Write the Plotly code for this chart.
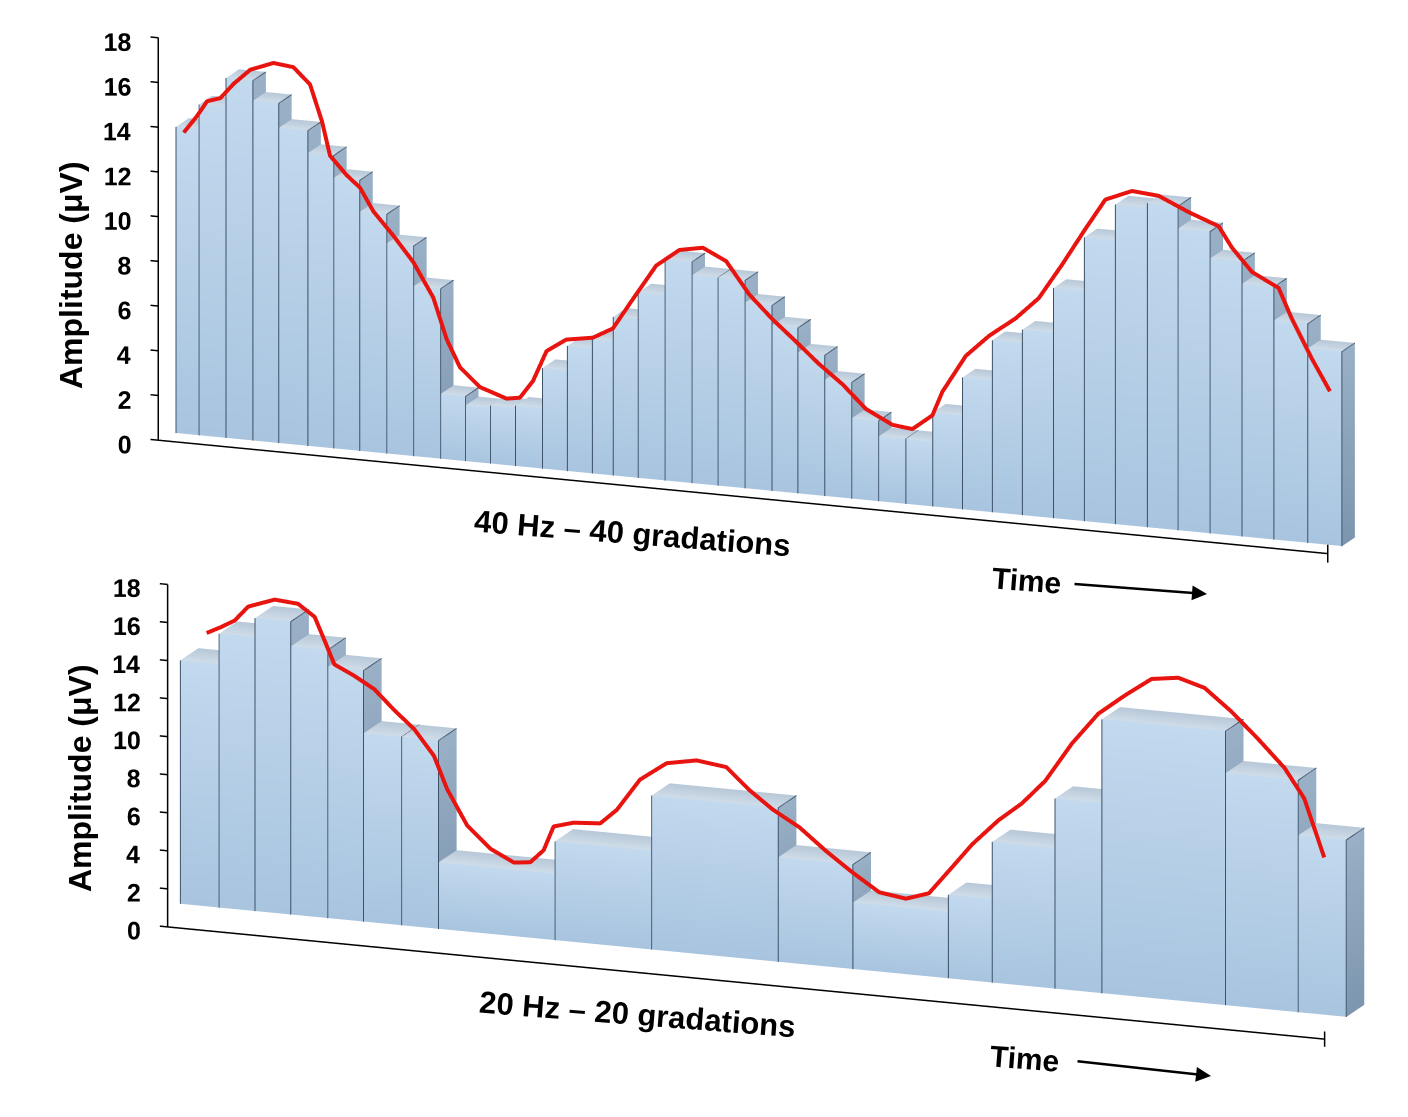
import plotly.graph_objects as go

# ---------------------------------------------------------------------------
# Values. Time runs 0..42 across each panel (slot units),
# amplitude in microvolts.
# ---------------------------------------------------------------------------

TOP_EDGES = [0, 0.83, 1.80, 2.77, 3.70, 4.75, 5.68, 6.62, 7.59, 8.56,
             9.53, 10.43, 11.33, 12.23, 13.20, 14.10, 15.00, 15.75, 16.65, 17.62,
             18.59, 19.53, 20.50, 21.47, 22.40, 23.37, 24.34, 25.31, 26.29, 27.26,
             28.33, 29.41, 30.49, 31.61, 32.72, 33.84, 34.99, 36.10, 37.25, 38.40,
             39.55, 40.77, 42.0]
TOP_VALUES = [13.7, 14.8, 16.1, 15.2, 14.1, 13.1, 12.1, 10.7, 9.4, 7.6,
              2.9, 2.5, 2.6, 2.7, 4.5, 5.6, 6.0, 7.1, 8.3, 9.9,
              9.3, 9.3, 8.3, 7.4, 6.3, 5.2, 3.6, 2.9, 2.9, 4.2,
              5.9, 7.7, 8.3, 10.3, 12.7, 14.3, 14.5, 13.5, 12.3, 11.3,
              9.8, 8.7]

TOP_CURVE_T = [0.30, 0.78, 1.14, 1.62, 2.10, 2.70, 3.53, 4.25, 4.85, 5.28,
               5.57, 6.17, 6.65, 7.13, 7.85, 8.57, 9.29, 9.77, 10.25, 10.97,
               11.93, 12.41, 12.88, 13.37, 14.08, 15.04, 15.76, 16.48, 17.32, 18.16,
               19.00, 19.84, 20.68, 21.51, 22.36, 23.19, 24.03, 24.87, 25.83, 26.55,
               27.27, 27.63, 28.47, 29.31, 30.27, 31.10, 31.94, 32.78, 33.50, 34.46,
               35.42, 36.50, 37.58, 38.06, 38.78, 39.74, 40.21, 40.93, 41.59]
TOP_CURVE_V = [13.5, 14.3, 15.0, 15.2, 15.9, 16.6, 17.0, 16.9, 16.2, 14.6,
               13.1, 12.3, 11.8, 10.8, 9.8, 8.7, 7.2, 5.4, 4.2, 3.4,
               3.0, 3.1, 3.9, 5.3, 5.9, 6.1, 6.6, 8.0, 9.6, 10.4,
               10.6, 10.1, 8.7, 7.7, 6.8, 5.9, 5.1, 4.1, 3.5, 3.4,
               4.1, 5.2, 6.9, 7.9, 8.8, 9.8, 11.4, 13.1, 14.5, 15.0,
               14.9, 14.3, 13.8, 12.9, 11.9, 11.3, 10.0, 8.3, 6.9]

# 20 Hz panel: neighbouring equal gradations merge into one wide block
BOTTOM_EDGES = [0, 1.40, 2.69, 3.98, 5.31, 6.60, 7.97, 9.30, 13.50, 16.98,
                21.54, 24.23, 27.67, 29.25, 31.51, 33.20, 37.65, 40.27, 42.0]
BOTTOM_VALUES = [12.8, 14.4, 15.4, 14.1, 13.2, 9.9, 9.9, 3.5, 5.2,
                 8.1, 5.5, 3.5, 4.4, 7.4, 10.0, 14.4, 12.2, 9.3]

BOTTOM_CURVE_T = [0.97, 1.51, 1.98, 2.47, 3.42, 4.26, 4.86, 5.22, 5.57, 6.29,
                  7.01, 7.73, 8.45, 9.16, 9.64, 10.36, 11.20, 12.04, 12.63, 13.11,
                  13.47, 14.19, 15.15, 15.75, 16.58, 17.54, 18.62, 19.69, 20.53, 21.37,
                  22.33, 23.28, 24.24, 25.20, 26.16, 26.99, 27.83, 28.55, 29.50, 30.34,
                  31.18, 32.14, 33.09, 34.05, 35.01, 35.97, 36.92, 37.88, 38.84, 39.80,
                  40.51, 41.23]
BOTTOM_CURVE_V = [14.4, 14.8, 15.2, 16.0, 16.5, 16.4, 15.8, 14.6, 13.4, 12.9,
                  12.3, 11.3, 10.4, 9.1, 7.4, 5.6, 4.5, 3.9, 4.0, 4.7,
                  6.0, 6.3, 6.4, 7.2, 8.9, 9.9, 10.2, 10.0, 8.9, 8.0,
                  7.2, 6.1, 5.1, 4.2, 4.0, 4.4, 5.9, 7.2, 8.6, 9.6,
                  10.9, 13.0, 14.7, 15.8, 16.8, 17.0, 16.6, 15.5, 14.2, 12.8,
                  11.3, 8.3]

TICKS = [0, 2, 4, 6, 8, 10, 12, 14, 16, 18]
TICK_LABELS = ["0", "2", "4", "6", "8", "10", "12", "14", "16", "18"]

FONT = "Liberation Sans"

# per panel geometry: bar depth, position of the front axes
TOP_GEOM = dict(depth=1.21, axis_x=-0.23, front_y=-1.1, x_end=41.9)
BOTTOM_GEOM = dict(depth=1.7, axis_x=0.67, front_y=-3.0, x_end=42.35)

FRONT_COL = ("#a8c4df", "#c2d9ee")
TOP_COL = ("#d0dde9", "#b8c8d8")
SIDE_COL = ("#7d96af", "#99b0c6")
LEFT_COL = ("#9fb8cf", "#b4c8db")


def bar_mesh(edges, heights, d):
    xs, ys, zs, ii, jj, kk, cols = [], [], [], [], [], [], []

    def quad(pts, c0, c1):
        n = len(xs)
        for (x, y, z), c in zip(pts, (c0, c0, c1, c1)):
            xs.append(x); ys.append(y); zs.append(z); cols.append(c)
        ii.extend([n, n]); jj.extend([n + 1, n + 2]); kk.extend([n + 2, n + 3])

    for x0, x1, h in zip(edges[:-1], edges[1:], heights):
        quad([(x0, 0, 0), (x1, 0, 0), (x1, 0, h), (x0, 0, h)], *FRONT_COL)
        quad([(x0, 0, h), (x1, 0, h), (x1, d, h), (x0, d, h)], *TOP_COL)
        quad([(x1, 0, 0), (x1, d, 0), (x1, d, h), (x1, 0, h)], *SIDE_COL)
        quad([(x0, 0, 0), (x0, d, 0), (x0, d, h), (x0, 0, h)], *LEFT_COL)
    return go.Mesh3d(x=xs, y=ys, z=zs, i=ii, j=jj, k=kk, vertexcolor=cols,
                     flatshading=True,
                     lighting=dict(ambient=1.0, diffuse=0.0, specular=0.0,
                                   roughness=1.0, fresnel=0.0),
                     hoverinfo="skip", showscale=False)


def bar_edges(edges, heights, d):
    xs, ys, zs = [], [], []
    e = -0.02
    for x0, x1, h in zip(edges[:-1], edges[1:], heights):
        for seg in ([(x0, e, 0), (x0, e, h)],
                    [(x1, e, 0), (x1, e, h), (x1, d, h)]):
            for p in seg:
                xs.append(p[0]); ys.append(p[1]); zs.append(p[2])
            xs.append(None); ys.append(None); zs.append(None)
    return go.Scatter3d(x=xs, y=ys, z=zs, mode="lines",
                        line=dict(color="#3e5268", width=2),
                        hoverinfo="skip", showlegend=False)


def axis_traces(g):
    ax, fy, xe = g["axis_x"], g["front_y"], g["x_end"]
    lx, ly, lz = [], [], []
    lx += [ax, ax, None]; ly += [fy, fy, None]; lz += [0, TICKS[-1], None]
    for t in TICKS[1:]:
        lx += [ax - 0.28, ax, None]; ly += [fy, fy, None]; lz += [t, t, None]
    lx += [ax - 0.28, xe, None]; ly += [fy, fy, None]; lz += [0, 0, None]
    lx += [xe, xe, None]; ly += [fy, fy, None]; lz += [-0.4, 0.4, None]
    lines = go.Scatter3d(x=lx, y=ly, z=lz, mode="lines",
                         line=dict(color="black", width=3),
                         hoverinfo="skip", showlegend=False)
    labels = go.Scatter3d(x=[ax - 0.1] * len(TICKS), y=[fy] * len(TICKS),
                          z=[t - 0.2 for t in TICKS], mode="text", text=TICK_LABELS,
                          textposition="middle left",
                          textfont=dict(family=FONT, size=25, color="black", weight="bold"),
                          hoverinfo="skip", showlegend=False)
    return [lines, labels]


def curve(t, v):
    return go.Scatter3d(x=t, y=[-0.08] * len(t), z=v, mode="lines",
                        line=dict(color="#e8140f", width=8),
                        hoverinfo="skip", showlegend=False)


# orthographic view from the front right, slightly above; the zoom of an
# orthographic scene comes from the aspect ratio, not from the eye distance
VIEW = dict(x=0.3425, y=-0.904, z=0.256)
ZOOM = 1.655


def scene(domain_y, yrange, aspect, center):
    aspect = {k: v * ZOOM for k, v in aspect.items()}
    eye = {k: center[k] + 1.5 * VIEW[k] for k in VIEW}
    return dict(
        domain=dict(x=[0.0, 1.0], y=domain_y),
        xaxis=dict(visible=False, range=[-3, 43]),
        yaxis=dict(visible=False, range=yrange),
        zaxis=dict(visible=False, range=[-1, 19]),
        aspectmode="manual",
        aspectratio=aspect,
        camera=dict(eye=eye, center=center, up=dict(x=0, y=0, z=1),
                    projection=dict(type="orthographic")),
        bgcolor="rgba(0,0,0,0)",
    )


fig = go.Figure()

panels = [
    ("scene", TOP_EDGES, TOP_VALUES, TOP_CURVE_T, TOP_CURVE_V, TOP_GEOM),
    ("scene2", BOTTOM_EDGES, BOTTOM_VALUES, BOTTOM_CURVE_T, BOTTOM_CURVE_V, BOTTOM_GEOM),
]
for name, edges, values, ct, cv, g in panels:
    traces = [bar_mesh(edges, values, g["depth"]),
              bar_edges(edges, values, g["depth"]),
              curve(ct, cv)] + axis_traces(g)
    for tr in traces:
        tr.scene = name
        fig.add_trace(tr)

W, H = 1408, 1117
annotations = [
    dict(text="Amplitude (μV)", x=63 / W, y=1 - 267 / H, textangle=-90, size=32),
    dict(text="Amplitude (μV)", x=72 / W, y=1 - 770 / H, textangle=-90, size=32),
    dict(text="40 Hz – 40 gradations", x=624 / W, y=1 - 525 / H, textangle=4.5, size=31),
    dict(text="20 Hz – 20 gradations", x=629 / W, y=1 - 1006 / H, textangle=4.5, size=31),
    dict(text="Time", x=1018 / W, y=1 - 572 / H, textangle=4.5, size=30),
    dict(text="Time", x=1016 / W, y=1 - 1050 / H, textangle=4.5, size=30),
]
for a in annotations:
    size = a.pop("size")
    a.update(xref="paper", yref="paper", xanchor="center", yanchor="middle",
             showarrow=False,
             font=dict(family=FONT, size=size, color="black", weight="bold"))
for tip, tail in (((1199, 586), (1065, 576)), ((1203, 1068), (1068, 1053))):
    annotations.append(dict(x=tip[0] / W, y=1 - tip[1] / H, xref="paper", yref="paper",
                            ax=tail[0] - tip[0], ay=tail[1] - tip[1], text="",
                            showarrow=True, arrowhead=2, arrowsize=1.2,
                            arrowwidth=2.5, arrowcolor="black"))

fig.update_layout(
    width=W, height=H,
    margin=dict(l=0, r=0, t=0, b=0),
    paper_bgcolor="white",
    showlegend=False,
    scene=scene([0.5, 1.0], [-1.5, 2.0], dict(x=2.952, y=0.2246, z=1.0),
                dict(x=-0.0744, y=-0.0265, z=-0.0139)),
    scene2=scene([0.0, 0.5], [-3.5, 2.2], dict(x=2.952, y=0.3658, z=0.851),
                 dict(x=-0.0908, y=0.069, z=-0.231)),
    annotations=annotations,
)

fig.write_html("out.html")
